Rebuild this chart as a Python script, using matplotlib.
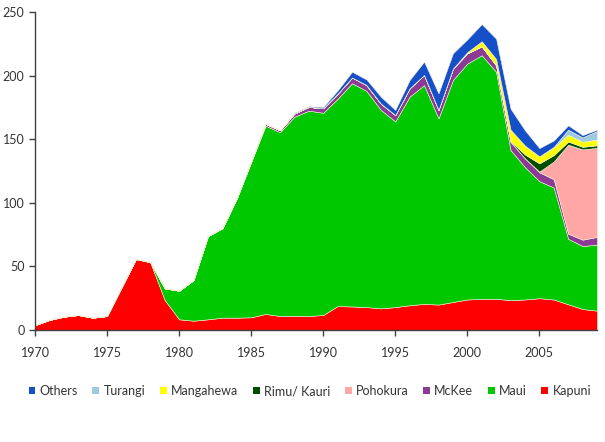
import matplotlib.pyplot as plt
from matplotlib.patches import Patch
import numpy as np

years = list(range(1970, 2010))

# values (stacked bottom -> top)
kapuni = [3.9, 7.9, 10.5, 11.8, 9.7, 11, 33.5, 55.8, 53.2, 23.6,
          8.4, 7.3, 8.4, 9.7, 9.7, 10, 12.6, 11, 11.2, 11,
          11.8, 18.8, 18.5, 18, 17, 18, 19.5, 20.5, 20, 22,
          24, 24.5, 24.5, 23.5, 24, 25, 24, 20.2, 16.5, 15.2]
maui = [0, 0, 0, 0, 0, 0, 0, 0, 0.3, 9.2,
        22.5, 32, 65.5, 70.3, 93.8, 122, 148, 144.5, 156.5, 161.4,
        159, 163, 175.5, 170, 156, 146, 164, 172, 146.4, 174.5,
        185.5, 191.5, 178.5, 118, 104, 92, 88, 51.5, 49.5, 52]
mckee = [0, 0, 0, 0, 0, 0, 0, 0, 0, 0,
         0, 0, 0, 0, 0, 0.5, 1.5, 1.5, 2.5, 3,
         3.5, 4, 4.5, 4.6, 5, 5, 6.6, 8, 6.6, 9,
         8, 7, 5, 6.5, 7, 7, 6.5, 4, 5, 6]
pohokura = [0] * 35 + [0.5, 14, 70, 71, 70]
rimu = [0] * 33 + [0.5, 3, 6.5, 5, 2.5, 2, 2]
mangahewa = [0] * 30 + [1, 4, 5, 9, 7, 5.5, 6, 5.3, 4, 4.5]
turangi = [0] * 36 + [0.5, 4, 3.4, 6.8]
others = [0] * 18 + [0.5, 0.5,
                     1, 2.5, 4.5, 4.4, 5.4, 4, 6.5, 10.5, 13, 12,
                     10, 13.5, 16, 16.5, 12, 6.5, 5, 3.4, 1.8, 1]

names = ['Kapuni', 'Maui', 'McKee', 'Pohokura', 'Rimu/ Kauri', 'Mangahewa', 'Turangi', 'Others']
colors = ['#ff0000', '#00c800', '#8b3a96', '#ffa6a6', '#004d00', '#ffff00', '#9ccbe0', '#1650c8']

plt.rcParams['font.family'] = ['Lato', 'DejaVu Sans']

fig = plt.figure(figsize=(6.05, 4.42), dpi=100)
ax = fig.add_axes([35 / 605, 1 - 330 / 442, 562 / 605, 318 / 442])

ax.stackplot(years, kapuni, maui, mckee, pohokura, rimu, mangahewa, turangi, others,
             colors=colors, edgecolor='#f4f0d8', linewidth=0.4)

ax.set_xlim(1970, 2009)
ax.set_ylim(0, 250)
ax.set_xticks(range(1970, 2010, 5))
ax.set_yticks(range(0, 251, 50))
for s in ['top', 'right']:
    ax.spines[s].set_visible(False)
for s in ['left', 'bottom']:
    ax.spines[s].set_color('#404040')
    ax.spines[s].set_linewidth(1.0)
ax.tick_params(axis='both', direction='out', length=4, width=1, colors='#404040',
               labelcolor='#333333', labelsize=9)
ax.tick_params(axis='x', pad=8)

handles = [Patch(facecolor=c, edgecolor='none') for c in colors[::-1]]
fig.legend(handles, names[::-1], loc='center', bbox_to_anchor=(0.512, 1 - 391 / 442),
           ncol=8, frameon=False, fontsize=9, handlelength=0.55, handleheight=0.55,
           handletextpad=0.35, columnspacing=1.15, labelcolor='#333333')

fig.savefig('out.png', dpi=100)
